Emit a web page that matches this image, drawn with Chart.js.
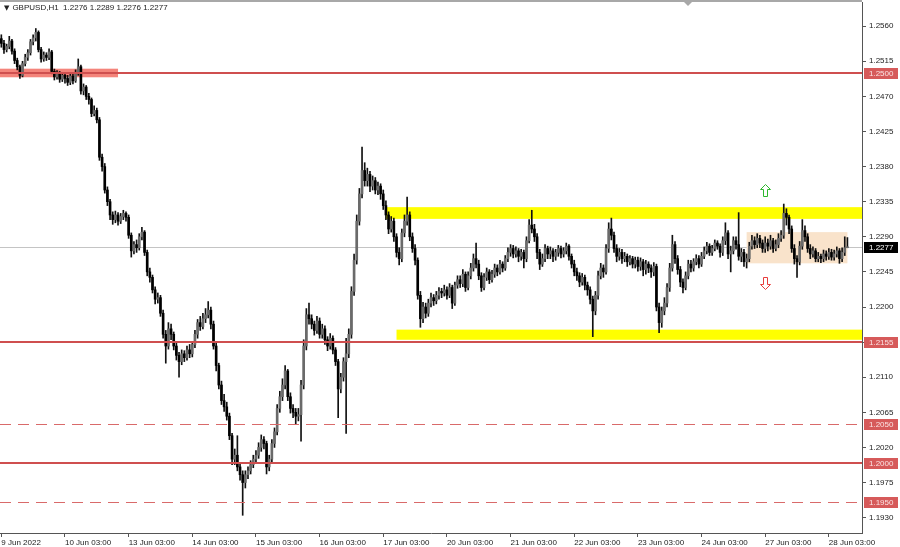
<!DOCTYPE html>
<html><head><meta charset="utf-8">
<script src="https://cdn.jsdelivr.net/npm/chart.js@4.4.0/dist/chart.umd.min.js"></script>
<style>
html,body{margin:0;padding:0;background:#fff;}
#wrap{position:relative;width:900px;height:547px;}
#title{position:absolute;left:4px;top:3px;font:8px "Liberation Sans",Arial,sans-serif;color:#222;white-space:pre;line-height:10px;}
#title .tri{font-family:"DejaVu Sans";font-size:7px;margin-right:3px;}
</style></head><body>
<div id="wrap"><canvas id="c" width="900" height="547"></canvas>
<div id="title"><span class="tri">▼</span>GBPUSD,H1  1.2276 1.2289 1.2276 1.2277</div></div>
<script>
const xTickLabels = ['9 Jun 2022','10 Jun 03:00','13 Jun 03:00','14 Jun 03:00','15 Jun 03:00','16 Jun 03:00','17 Jun 03:00','20 Jun 03:00','21 Jun 03:00','22 Jun 03:00','23 Jun 03:00','24 Jun 03:00','27 Jun 03:00','28 Jun 03:00'];
const barsPerTick = 24;
const emptySlots = 5;
const yTicks = [1.2560,1.2515,1.2470,1.2425,1.2380,1.2335,1.2290,1.2245,1.2200,1.2155,1.2110,1.2065,1.2020,1.1975,1.1930];
const yMin = 1.19103, yMax = 1.25910;

const firstOpen = 1.2544;
const closes = [
1.2538,1.2530,1.2534,1.2541,1.2528,1.2516,1.2508,1.2497,1.2512,1.2520,1.2526,1.2540,1.2545,1.2552,1.2530,1.2518,1.2523,1.2520,1.2527,1.2502,1.2495,1.2499,1.2492,1.2497,
1.2493,1.2488,1.2496,1.2490,1.2500,1.2508,1.2477,1.2482,1.2470,1.2466,1.2448,1.2452,1.2440,1.2392,1.2380,1.2350,1.2335,1.2318,1.2312,1.2318,1.2310,1.2316,1.2320,1.2315,
1.2292,1.2272,1.2280,1.2276,1.2290,1.2296,1.2270,1.2245,1.2238,1.2222,1.2210,1.2212,1.2192,1.2165,1.2150,1.2172,1.2165,1.2150,1.2138,1.2130,1.2140,1.2135,1.2145,1.2140,
1.2152,1.2165,1.2180,1.2175,1.2185,1.2190,1.2196,1.2178,1.2150,1.2125,1.2100,1.2080,1.2072,1.2060,1.2035,1.2005,1.2010,1.1995,1.1985,1.1975,1.1985,1.1990,1.1998,1.2005,
1.2010,1.2020,1.2030,1.2025,1.1995,1.2005,1.2025,1.2040,1.2070,1.2085,1.2100,1.2118,1.2085,1.2070,1.2065,1.2060,1.2062,1.2100,1.2150,1.2190,1.2185,1.2178,1.2170,1.2182,
1.2165,1.2172,1.2158,1.2150,1.2160,1.2145,1.2130,1.2095,1.2110,1.2130,1.2140,1.2165,1.2220,1.2260,1.2310,1.2345,1.2375,1.2362,1.2370,1.2355,1.2362,1.2350,1.2355,1.2345,
1.2330,1.2318,1.2300,1.2310,1.2290,1.2270,1.2262,1.2295,1.2310,1.2318,1.2290,1.2275,1.2260,1.2215,1.2185,1.2200,1.2192,1.2205,1.2212,1.2208,1.2215,1.2220,1.2218,1.2222,
1.2215,1.2225,1.2205,1.2228,1.2235,1.2230,1.2242,1.2225,1.2240,1.2250,1.2262,1.2255,1.2240,1.2225,1.2238,1.2245,1.2235,1.2242,1.2250,1.2245,1.2255,1.2250,1.2262,1.2270,
1.2275,1.2268,1.2272,1.2265,1.2270,1.2262,1.2285,1.2305,1.2300,1.2290,1.2270,1.2255,1.2262,1.2275,1.2268,1.2272,1.2265,1.2270,1.2275,1.2268,1.2272,1.2278,1.2265,1.2255,
1.2245,1.2240,1.2232,1.2238,1.2228,1.2222,1.2210,1.2195,1.2215,1.2240,1.2250,1.2245,1.2275,1.2300,1.2292,1.2275,1.2265,1.2270,1.2262,1.2265,1.2258,1.2262,1.2255,1.2260,
1.2252,1.2258,1.2248,1.2255,1.2250,1.2245,1.2252,1.2200,1.2180,1.2195,1.2205,1.2225,1.2250,1.2280,1.2262,1.2248,1.2232,1.2225,1.2240,1.2255,1.2250,1.2258,1.2262,1.2255,
1.2265,1.2272,1.2278,1.2270,1.2275,1.2282,1.2278,1.2270,1.2285,1.2295,1.2268,1.2272,1.2285,1.2280,1.2265,1.2270,1.2258,1.2262,1.2278,1.2285,1.2280,1.2288,1.2282,1.2275,
1.2282,1.2278,1.2285,1.2275,1.2280,1.2288,1.2292,1.2320,1.2315,1.2300,1.2275,1.2262,1.2258,1.2278,1.2298,1.2290,1.2275,1.2268,1.2272,1.2262,1.2265,1.2262,1.2268,1.2265,
1.2270,1.2264,1.2268,1.2272,1.2262,1.2270,1.2276,1.2277
];
const highs = [
1.2549,1.2542,1.2537,1.2547,1.2543,1.2531,1.2519,1.2510,1.2515,1.2524,1.2530,1.2543,1.2549,1.2557,1.2554,1.2533,1.2527,1.2526,1.2531,1.2529,1.2505,1.2503,1.2502,1.2500,
1.2500,1.2497,1.2499,1.2499,1.2504,1.2518,1.2510,1.2486,1.2484,1.2474,1.2468,1.2458,1.2455,1.2443,1.2396,1.2384,1.2354,1.2338,1.2322,1.2323,1.2321,1.2320,1.2324,1.2322,
1.2318,1.2295,1.2284,1.2286,1.2294,1.2302,1.2298,1.2273,1.2250,1.2241,1.2226,1.2218,1.2215,1.2196,1.2170,1.2180,1.2178,1.2168,1.2155,1.2142,1.2145,1.2144,1.2150,1.2152,
1.2156,1.2170,1.2184,1.2188,1.2192,1.2198,1.2207,1.2200,1.2182,1.2154,1.2128,1.2105,1.2088,1.2078,1.2064,1.2038,1.2018,1.2035,1.2000,1.1990,1.1990,1.1995,1.2003,1.2010,
1.2016,1.2026,1.2036,1.2034,1.2028,1.2010,1.2030,1.2045,1.2075,1.2092,1.2108,1.2125,1.2120,1.2090,1.2075,1.2070,1.2070,1.2106,1.2158,1.2198,1.2205,1.2190,1.2182,1.2188,
1.2186,1.2178,1.2176,1.2162,1.2166,1.2163,1.2148,1.2133,1.2115,1.2135,1.2160,1.2172,1.2226,1.2268,1.2318,1.2352,1.2405,1.2385,1.2378,1.2374,1.2368,1.2366,1.2360,1.2358,
1.2350,1.2336,1.2322,1.2316,1.2314,1.2294,1.2276,1.2300,1.2318,1.2341,1.2322,1.2295,1.2280,1.2263,1.2220,1.2206,1.2205,1.2210,1.2218,1.2216,1.2220,1.2225,1.2224,1.2228,
1.2226,1.2230,1.2228,1.2232,1.2240,1.2240,1.2248,1.2245,1.2245,1.2256,1.2268,1.2282,1.2260,1.2244,1.2243,1.2250,1.2248,1.2247,1.2255,1.2254,1.2260,1.2258,1.2266,1.2276,
1.2280,1.2279,1.2277,1.2275,1.2274,1.2273,1.2290,1.2312,1.2324,1.2306,1.2294,1.2274,1.2268,1.2280,1.2278,1.2277,1.2275,1.2274,1.2279,1.2278,1.2276,1.2282,1.2280,1.2268,
1.2260,1.2250,1.2244,1.2243,1.2241,1.2232,1.2226,1.2214,1.2220,1.2246,1.2256,1.2254,1.2280,1.2308,1.2314,1.2296,1.2280,1.2275,1.2274,1.2270,1.2268,1.2266,1.2265,1.2264,
1.2264,1.2263,1.2261,1.2260,1.2258,1.2254,1.2257,1.2255,1.2205,1.2200,1.2212,1.2230,1.2256,1.2292,1.2284,1.2266,1.2252,1.2236,1.2245,1.2260,1.2260,1.2262,1.2267,1.2266,
1.2270,1.2277,1.2283,1.2281,1.2279,1.2286,1.2285,1.2281,1.2290,1.2308,1.2298,1.2278,1.2290,1.2290,1.2321,1.2275,1.2274,1.2268,1.2283,1.2292,1.2290,1.2294,1.2292,1.2286,
1.2290,1.2287,1.2292,1.2288,1.2286,1.2294,1.2298,1.2332,1.2326,1.2318,1.2304,1.2280,1.2266,1.2284,1.2312,1.2304,1.2294,1.2280,1.2277,1.2275,1.2270,1.2268,1.2273,1.2272,
1.2275,1.2274,1.2273,1.2277,1.2275,1.2276,1.2290,1.2289
];
const lows = [
1.2533,1.2525,1.2527,1.2531,1.2524,1.2512,1.2504,1.2493,1.2495,1.2509,1.2516,1.2523,1.2536,1.2541,1.2527,1.2514,1.2515,1.2516,1.2517,1.2499,1.2491,1.2492,1.2488,1.2489,
1.2487,1.2484,1.2485,1.2486,1.2488,1.2497,1.2473,1.2472,1.2466,1.2460,1.2444,1.2445,1.2436,1.2388,1.2374,1.2346,1.2330,1.2312,1.2306,1.2308,1.2305,1.2307,1.2312,1.2310,
1.2288,1.2264,1.2268,1.2270,1.2273,1.2286,1.2266,1.2240,1.2232,1.2218,1.2204,1.2205,1.2188,1.2160,1.2128,1.2146,1.2158,1.2145,1.2132,1.2110,1.2126,1.2130,1.2132,1.2135,
1.2136,1.2148,1.2160,1.2170,1.2172,1.2180,1.2186,1.2172,1.2146,1.2118,1.2095,1.2075,1.2066,1.2055,1.2030,1.1998,1.1998,1.1990,1.1978,1.1933,1.1968,1.1980,1.1986,1.1994,
1.2000,1.2006,1.2015,1.2018,1.1986,1.1990,1.2000,1.2020,1.2036,1.2065,1.2080,1.2095,1.2080,1.2064,1.2058,1.2050,1.2054,1.2028,1.2095,1.2145,1.2178,1.2172,1.2164,1.2166,
1.2160,1.2160,1.2152,1.2144,1.2146,1.2140,1.2125,1.2058,1.2090,1.2105,1.2038,1.2135,1.2160,1.2215,1.2255,1.2305,1.2340,1.2355,1.2355,1.2348,1.2350,1.2345,1.2344,1.2338,
1.2325,1.2312,1.2294,1.2296,1.2284,1.2264,1.2254,1.2258,1.2290,1.2305,1.2285,1.2270,1.2254,1.2210,1.2174,1.2180,1.2186,1.2188,1.2200,1.2202,1.2204,1.2210,1.2212,1.2214,
1.2210,1.2212,1.2198,1.2202,1.2224,1.2225,1.2226,1.2220,1.2222,1.2236,1.2246,1.2250,1.2235,1.2220,1.2222,1.2234,1.2230,1.2232,1.2238,1.2240,1.2242,1.2245,1.2247,1.2258,
1.2265,1.2263,1.2264,1.2258,1.2260,1.2250,1.2258,1.2282,1.2295,1.2284,1.2262,1.2248,1.2252,1.2258,1.2262,1.2262,1.2258,1.2260,1.2265,1.2263,1.2264,1.2268,1.2260,1.2250,
1.2240,1.2234,1.2226,1.2228,1.2222,1.2215,1.2204,1.2162,1.2190,1.2210,1.2236,1.2238,1.2242,1.2270,1.2286,1.2270,1.2258,1.2260,1.2256,1.2258,1.2252,1.2254,1.2250,1.2250,
1.2246,1.2247,1.2240,1.2242,1.2244,1.2238,1.2240,1.2195,1.2167,1.2174,1.2190,1.2200,1.2220,1.2246,1.2256,1.2242,1.2226,1.2218,1.2222,1.2236,1.2245,1.2246,1.2254,1.2250,
1.2252,1.2262,1.2268,1.2266,1.2266,1.2272,1.2274,1.2264,1.2266,1.2280,1.2262,1.2245,1.2268,1.2274,1.2260,1.2258,1.2252,1.2250,1.2258,1.2274,1.2275,1.2276,1.2276,1.2270,
1.2270,1.2272,1.2274,1.2270,1.2272,1.2276,1.2284,1.2288,1.2305,1.2294,1.2270,1.2255,1.2238,1.2254,1.2274,1.2284,1.2270,1.2262,1.2264,1.2258,1.2258,1.2257,1.2258,1.2260,
1.2261,1.2260,1.2260,1.2264,1.2256,1.2258,1.2266,1.2276
];

// horizontal levels and zones (bar index / price)
const solidLevels = [1.2500, 1.2155, 1.2000];
const dashedLevels = [1.2050, 1.1950];
const currentPrice = 1.2277;
const resistanceZone = {fromBar:145, top:1.2328, bottom:1.2313};
const supportZone = {fromBar:149, top:1.2171, bottom:1.2158};
const rangeBox = {fromBar:281, toBar:319, top:1.2296, bottom:1.2256};
const level1250Box = {toBar:44, top:1.25055, bottom:1.24945};
const arrowBar = 288, arrowUpPrice = 1.2350, arrowDownPrice = 1.2231;

const nSlots = closes.length + emptySlots;
const labels = Array.from({length:nSlots}, (_, i) =>
  (i % barsPerTick === 0 && i / barsPerTick < xTickLabels.length) ? xTickLabels[i / barsPerTick] : '');
const opens = [firstOpen].concat(closes.slice(0, -1));
const bodies = closes.map((c, i) => [opens[i], c]);
const wicks = closes.map((c, i) => [lows[i], highs[i]]);
const bodyColors = closes.map((c, i) => c >= opens[i] ? '#6a6a6a' : '#000000');

const FONT = '"Liberation Sans", Arial, sans-serif';

const overlay = {
  id: 'overlay',
  beforeDatasetsDraw(chart) {
    const {ctx, chartArea: a, scales: {x, y}} = chart;
    ctx.save();
    ctx.beginPath(); ctx.rect(a.left, a.top, a.right - a.left, a.bottom - a.top); ctx.clip();
    ctx.strokeStyle = '#c4c4c4'; ctx.lineWidth = 1;
    const py = Math.round(y.getPixelForValue(currentPrice)) + 0.5;
    ctx.beginPath(); ctx.moveTo(a.left, py); ctx.lineTo(a.right, py); ctx.stroke();
    const fillZone = (x1, x2, top, bottom, color) => {
      const y1 = y.getPixelForValue(top), y2 = y.getPixelForValue(bottom);
      ctx.fillStyle = color; ctx.fillRect(x1, y1, x2 - x1, y2 - y1);
    };
    fillZone(a.left, x.getPixelForValue(level1250Box.toBar), level1250Box.top, level1250Box.bottom, '#f4847b');
    fillZone(x.getPixelForValue(resistanceZone.fromBar), a.right, resistanceZone.top, resistanceZone.bottom, '#ffff00');
    fillZone(x.getPixelForValue(supportZone.fromBar), a.right, supportZone.top, supportZone.bottom, '#ffff00');
    fillZone(x.getPixelForValue(rangeBox.fromBar), x.getPixelForValue(rangeBox.toBar), rangeBox.top, rangeBox.bottom, '#f9e3cb');
    ctx.restore();
  },
  afterDatasetsDraw(chart) {
    const {ctx, chartArea: a, scales: {x, y}} = chart;
    ctx.save();
    ctx.beginPath(); ctx.rect(a.left, a.top, a.right - a.left, a.bottom - a.top); ctx.clip();
    solidLevels.forEach(p => {
      const py = y.getPixelForValue(p);
      ctx.strokeStyle = '#cf4f4f'; ctx.lineWidth = 2; ctx.setLineDash([]);
      ctx.beginPath(); ctx.moveTo(a.left, py); ctx.lineTo(a.right, py); ctx.stroke();
    });
    dashedLevels.forEach(p => {
      const py = Math.round(y.getPixelForValue(p)) + 0.5;
      ctx.strokeStyle = '#d96a6a'; ctx.lineWidth = 1; ctx.setLineDash([11, 7]);
      ctx.beginPath(); ctx.moveTo(a.left, py); ctx.lineTo(a.right, py); ctx.stroke();
    });
    ctx.setLineDash([]);
    const arrow = (cx, cy, up, color) => {
      const s = up ? 1 : -1;
      ctx.beginPath();
      ctx.moveTo(cx, cy - 6 * s);
      ctx.lineTo(cx + 5, cy - 1 * s);
      ctx.lineTo(cx + 2, cy - 1 * s);
      ctx.lineTo(cx + 2, cy + 6 * s);
      ctx.lineTo(cx - 2, cy + 6 * s);
      ctx.lineTo(cx - 2, cy - 1 * s);
      ctx.lineTo(cx - 5, cy - 1 * s);
      ctx.closePath();
      ctx.fillStyle = '#ffffff'; ctx.fill();
      ctx.strokeStyle = color; ctx.lineWidth = 1; ctx.stroke();
    };
    const ax = Math.round(x.getPixelForValue(arrowBar)) + 0.5;
    arrow(ax, Math.round(y.getPixelForValue(arrowUpPrice)) + 0.5, true, '#2eb82e');
    arrow(ax, Math.round(y.getPixelForValue(arrowDownPrice)) + 0.5, false, '#e83c3c');
    ctx.restore();
  },
  afterDraw(chart) {
    const {ctx, chartArea: a, scales: {x, y}} = chart;
    ctx.save();
    ctx.fillStyle = '#a8a8a8';
    ctx.fillRect(0, 0, a.right, 2);
    ctx.beginPath(); ctx.moveTo(684, 2); ctx.lineTo(692, 2); ctx.lineTo(688, 6); ctx.closePath(); ctx.fill();
    ctx.font = '8px ' + FONT; ctx.textBaseline = 'middle'; ctx.textAlign = 'left';
    const box = (p, bg, fg) => {
      const py = y.getPixelForValue(p);
      ctx.fillStyle = bg; ctx.fillRect(a.right + 2, Math.round(py) - 5, 34, 11);
      ctx.fillStyle = fg; ctx.fillText(p.toFixed(4), a.right + 7, Math.round(py) + 0.5);
    };
    solidLevels.concat(dashedLevels).forEach(p => box(p, '#d65a5a', '#fbe3e3'));
    box(currentPrice, '#000000', '#ffffff');
    ctx.restore();
  }
};

new Chart(document.getElementById('c'), {
  type: 'bar',
  data: {
    labels: labels,
    datasets: [
      {label: 'body', data: bodies, backgroundColor: bodyColors, barThickness: 2, grouped: false, order: 0, minBarLength: 1},
      {label: 'wick', data: wicks, backgroundColor: '#111111', barThickness: 1, grouped: false, order: 1}
    ]
  },
  options: {
    responsive: false, animation: false, events: [],
    layout: {padding: {top: 2, left: 0, right: 0, bottom: 0}},
    plugins: {legend: {display: false}, tooltip: {enabled: false}, title: {display: false}},
    scales: {
      x: {
        type: 'category', offset: true,
        border: {display: true, color: '#555', width: 1},
        grid: {display: true, drawOnChartArea: false, drawTicks: true, tickLength: 4, offset: false,
          color: c => (c.index % barsPerTick === 0 && c.index / barsPerTick < xTickLabels.length) ? '#555' : 'rgba(0,0,0,0)'},
        ticks: {autoSkip: false, maxRotation: 0, minRotation: 0, align: 'start', padding: 1, color: '#222',
          font: {family: FONT, size: 8}},
        afterFit: s => { s.height = 14; s.paddingLeft = 0; s.paddingRight = 0; }
      },
      y: {
        type: 'linear', position: 'right', min: yMin, max: yMax,
        border: {display: true, color: '#555', width: 1},
        grid: {display: true, drawOnChartArea: false, tickLength: 4, color: '#555'},
        afterBuildTicks: s => { s.ticks = yTicks.map(v => ({value: v})); },
        ticks: {callback: v => Number(v).toFixed(4), padding: 3, color: '#222', font: {family: FONT, size: 8}},
        afterFit: s => { s.width = 38; s.paddingTop = 0; s.paddingBottom = 0; }
      }
    }
  },
  plugins: [overlay]
});
</script>
</body></html>
